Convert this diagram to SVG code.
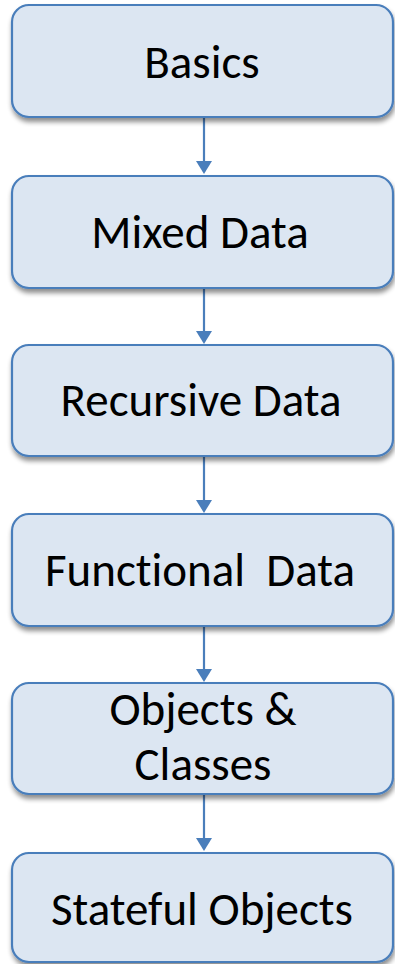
<svg xmlns="http://www.w3.org/2000/svg" width="395" height="964" viewBox="0 0 395 964">
<defs>
<filter id="sh" x="-10%" y="-10%" width="120%" height="130%">
<feGaussianBlur in="SourceAlpha" stdDeviation="2.5"/>
<feOffset dx="1" dy="4" result="b"/>
<feComponentTransfer><feFuncA type="linear" slope="0.45"/></feComponentTransfer>
<feMerge><feMergeNode/><feMergeNode in="SourceGraphic"/></feMerge>
</filter>
</defs>
<style>
.box{fill:#dce6f2;stroke:#4a7ebb;stroke-width:2.2}
.t{font-family:"Carlito","Lato","Liberation Sans",sans-serif;font-size:47px;fill:#000;text-anchor:middle;font-variant-ligatures:none}
.c{stroke:#4a7ebb;stroke-width:2.2;fill:none}
.a{fill:#4a7ebb}
</style>
<g id="connectors">
<line class="c" x1="204" y1="118" x2="204" y2="163"/><path class="a" d="M196,161 L212,161 L204,174 Z"/>
<line class="c" x1="204" y1="288" x2="204" y2="333"/><path class="a" d="M196,331 L212,331 L204,344 Z"/>
<line class="c" x1="204" y1="457" x2="204" y2="502"/><path class="a" d="M196,500 L212,500 L204,513 Z"/>
<line class="c" x1="204" y1="626" x2="204" y2="671"/><path class="a" d="M196,669 L212,669 L204,682 Z"/>
<line class="c" x1="204" y1="795" x2="204" y2="840"/><path class="a" d="M196,838 L212,838 L204,851 Z"/>
</g>
<g id="n1"><rect class="box" x="12" y="5" width="381" height="112" rx="17" filter="url(#sh)"/><text class="t" x="202" y="78">Basics</text></g>
<g id="n2"><rect class="box" x="12" y="176" width="381" height="112" rx="17" filter="url(#sh)"/><text class="t" x="200" y="248">Mixed Data</text></g>
<g id="n3"><rect class="box" x="12" y="345" width="381" height="111" rx="17" filter="url(#sh)"/><text class="t" x="201" y="416">Recursive Data</text></g>
<g id="n4"><rect class="box" x="12" y="514" width="381" height="112" rx="17" filter="url(#sh)"/><text class="t" x="200" y="586" xml:space="preserve">Functional  Data</text></g>
<g id="n5"><rect class="box" x="12" y="683" width="381" height="111" rx="17" filter="url(#sh)"/><text class="t" x="203" y="725">Objects &amp;</text><text class="t" x="203" y="780">Classes</text></g>
<g id="n6"><rect class="box" x="12" y="853" width="381" height="109" rx="17" filter="url(#sh)"/><text class="t" x="202" y="925">Stateful Objects</text></g>
</svg>
